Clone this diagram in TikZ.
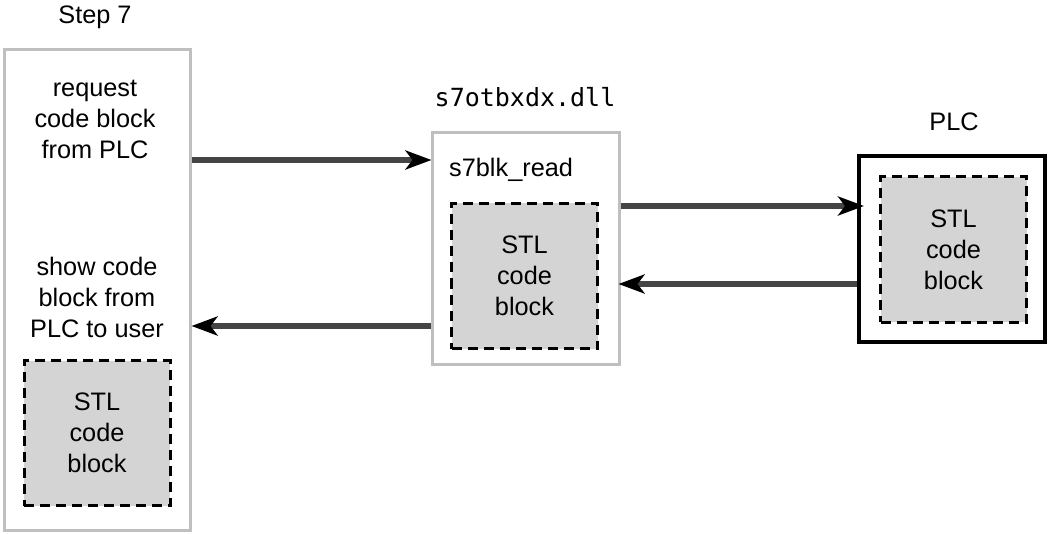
\documentclass[tikz,border=0pt]{standalone}
\usepackage{fontspec}
\setmainfont{Liberation Sans}
\newfontfamily\dllmono{DejaVu Sans Mono}
\usetikzlibrary{arrows.meta}
\begin{document}
\begin{tikzpicture}[x=1pt,y=-1pt,
  txt/.style={align=center, inner sep=0pt, font=\fontsize{25.3}{31}\selectfont},
  outerbox/.style={draw=black!25, line width=3pt, minimum width=#1, inner sep=0pt},
  stlbox/.style={draw=black, fill=black!17, line width=3pt, dash pattern=on 10pt off 6pt,
     minimum width=146pt, minimum height=145pt, inner sep=0pt, align=center,
     font=\fontsize{25.3}{31}\selectfont},
  arr/.style={draw=black!73, line width=6pt, -{Stealth[length=26pt, width=19pt, inset=7pt, color=black]}}
]
\useasboundingbox (0,0) rectangle (1048,534);
% left box
\node[outerbox=186pt, minimum height=480pt] (left) at (97,290) {};
\node[txt] (steplbl) at (95,17) {Step 7};
\node[txt] (req) at (95,119) {request\\code block\\from PLC};
\node[txt] (show) at (97,297) {show code\\block from\\PLC to user};
\node[stlbox] (stlA) at (97,433) {STL\\code\\block};
% middle box
\node[outerbox=187pt, minimum height=231pt] (mid) at (525.5,248.5) {};
\node[inner sep=0pt, font=\dllmono\fontsize{25}{31}\selectfont] (dll) at (525,97) {s7otbxdx.dll};
\node[txt, anchor=west] (blk) at (449,170) {s7blk\_read};
\node[stlbox] (stlB) at (524.5,276) {STL\\code\\block};
% PLC box
\node[draw=black, line width=4pt, minimum width=186pt, minimum height=186pt, inner sep=0pt] (plc) at (952,249) {};
\node[txt] (plclbl) at (954,122) {PLC};
\node[stlbox] (stlC) at (953.5,249.5) {STL\\code\\block};
% arrow levels
\coordinate (y1) at (0,160);
\coordinate (y2) at (0,206);
\coordinate (y3) at (0,284);
\coordinate (y4) at (0,326);
\draw[arr] (left.east |- y1) -- ([xshift=1pt]mid.west |- y1);
\draw[arr] (mid.east |- y2) -- ([xshift=7pt]plc.west |- y2);
\draw[arr] (plc.west |- y3) -- ([xshift=-2pt]mid.east |- y3);
\draw[arr] (mid.west |- y4) -- (left.east |- y4);
\end{tikzpicture}
\end{document}
